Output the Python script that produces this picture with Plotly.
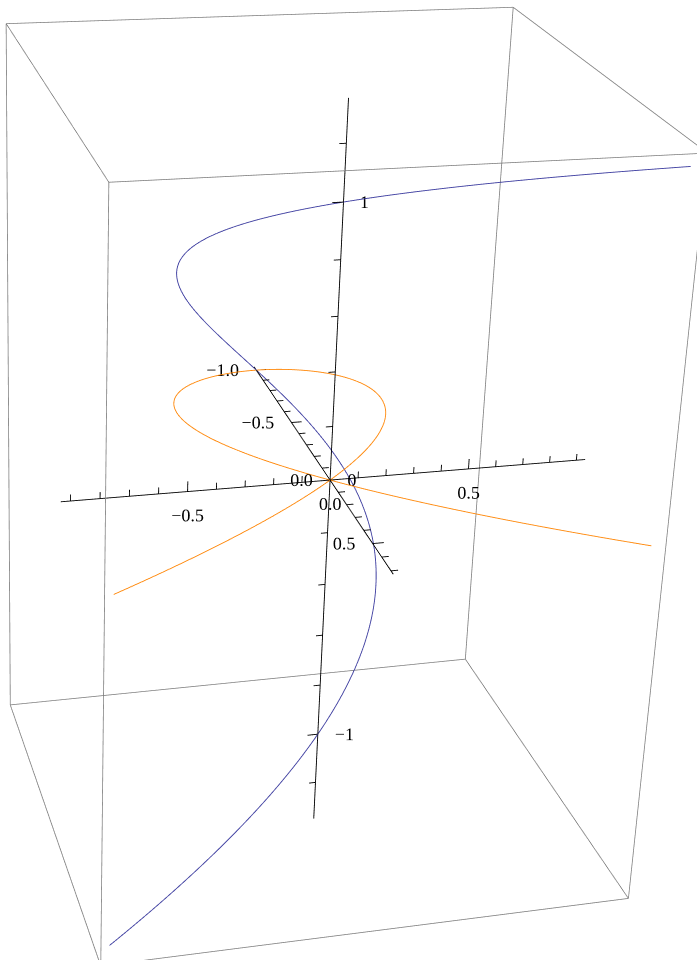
import numpy as np
import plotly.graph_objects as go

# ---- curve: twisted cubic (t^2-1, t^3-t, t) and its shadow in the plane z = 0
T_START, T_END = -1.3, 1.3
N_SAMPLES = 801

# ---- plot box (data extents padded by 2 % on each side); axes span the box
X_RANGE = [-1.034, 0.724]
Y_RANGE = [-0.933, 0.933]
Z_RANGE = [-1.352, 1.352]

# ---- ticks and tick labels of the three axes through the origin
X_TICKS = [-1.0, -0.9, -0.8, -0.7, -0.6, -0.5, -0.4, -0.3, -0.2, -0.1,
           0.0, 0.1, 0.2, 0.3, 0.4, 0.5, 0.6, 0.7]
X_MAJOR = [-1.0, -0.5, 0.0, 0.5]
X_LABELS = ["\u22121.0", "\u22120.5", "0.0", "0.5"]

Y_TICKS = [-0.9, -0.8, -0.7, -0.6, -0.5, -0.4, -0.3, -0.2, -0.1,
           0.0, 0.1, 0.2, 0.3, 0.4, 0.5, 0.6, 0.7, 0.8, 0.9]
Y_MAJOR = [-0.5, 0.0, 0.5]
Y_LABELS = ["\u22120.5", "0.0", "0.5"]

Z_TICKS = [-1.2, -1.0, -0.8, -0.6, -0.4, -0.2, 0.0, 0.2, 0.4, 0.6, 0.8, 1.0, 1.2]
Z_MAJOR = [-1.0, 0.0, 1.0]
Z_LABELS = ["\u22121", "0", "1"]

CURVE_BLUE = "rgb(62,62,160)"
CURVE_ORANGE = "rgb(255,136,10)"
BOX_GREY = "rgb(128,128,128)"
FONT = "Liberation Serif"

# tick mark lengths (data units)
MAJOR_LEN, MINOR_LEN = 0.038, 0.024
# extra room kept around the box inside the 3-D scene so its edges are not clipped
SCENE_MARGIN = 0.05

t = np.linspace(T_START, T_END, N_SAMPLES)
cx = t ** 2 - 1
cy = t ** 3 - t

fig = go.Figure()

# bounding box edges
corners = {}
for i, xv in enumerate(X_RANGE):
    for j, yv in enumerate(Y_RANGE):
        for k, zv in enumerate(Z_RANGE):
            corners[(i, j, k)] = (xv, yv, zv)
bx, by, bz = [], [], []
for key, p in corners.items():
    for axis in range(3):
        if key[axis] == 0:
            other = list(key)
            other[axis] = 1
            q = corners[tuple(other)]
            bx += [p[0], q[0], None]
            by += [p[1], q[1], None]
            bz += [p[2], q[2], None]
fig.add_trace(go.Scatter3d(x=bx, y=by, z=bz, mode="lines",
                           line=dict(color=BOX_GREY, width=1.6)))

# axes through the origin with their tick marks
ax_x = [X_RANGE[0], X_RANGE[1], None, 0, 0, None, 0, 0]
ax_y = [0, 0, None, Y_RANGE[0], Y_RANGE[1], None, 0, 0]
ax_z = [0, 0, None, 0, 0, None, Z_RANGE[0], Z_RANGE[1]]
tx, ty, tz = [], [], []
for v in X_TICKS:            # x ticks point along +y
    L = MAJOR_LEN if v in X_MAJOR else MINOR_LEN
    tx += [v, v, None]; ty += [0, L, None]; tz += [0, 0, None]
for v in Y_TICKS:            # y ticks point along +z
    L = MAJOR_LEN if v in Y_MAJOR else MINOR_LEN
    tx += [0, 0, None]; ty += [v, v, None]; tz += [0, L, None]
for v in Z_TICKS:            # z ticks point along -y
    L = MAJOR_LEN if v in Z_MAJOR else MINOR_LEN
    tx += [0, 0, None]; ty += [0, -L, None]; tz += [v, v, None]
fig.add_trace(go.Scatter3d(x=ax_x + [None] + tx, y=ax_y + [None] + ty,
                           z=ax_z + [None] + tz, mode="lines",
                           line=dict(color="black", width=1.8)))

# curves
fig.add_trace(go.Scatter3d(x=cx, y=cy, z=np.zeros_like(t), mode="lines",
                           line=dict(color=CURVE_ORANGE, width=1.8)))
fig.add_trace(go.Scatter3d(x=cx, y=cy, z=t, mode="lines",
                           line=dict(color=CURVE_BLUE, width=1.8)))

# tick labels
lab_font = dict(family=FONT, size=18, color="black")
fig.add_trace(go.Scatter3d(x=X_MAJOR, y=[0] * len(X_MAJOR), z=[0] * len(X_MAJOR),
                           mode="text", text=X_LABELS, textposition="middle left",
                           textfont=lab_font))
fig.add_trace(go.Scatter3d(x=[0] * len(Y_MAJOR), y=Y_MAJOR, z=[0] * len(Y_MAJOR),
                           mode="text", text=Y_LABELS, textposition="bottom center",
                           textfont=lab_font))
fig.add_trace(go.Scatter3d(x=[0] * len(Z_MAJOR), y=[0] * len(Z_MAJOR), z=Z_MAJOR,
                           mode="text", text=Z_LABELS, textposition="middle right",
                           textfont=lab_font))

# ---- scene extents and camera (given in data coordinates, converted to the
# scene's normalized space; equal scaling on all three axes)
scene_x = [X_RANGE[0] - SCENE_MARGIN, X_RANGE[1] + SCENE_MARGIN]
scene_y = [Y_RANGE[0] - SCENE_MARGIN, Y_RANGE[1] + SCENE_MARGIN]
scene_z = [Z_RANGE[0] - SCENE_MARGIN, Z_RANGE[1] + SCENE_MARGIN]
spans = np.array([scene_x[1] - scene_x[0], scene_y[1] - scene_y[0], scene_z[1] - scene_z[0]])
mid = np.array([sum(scene_x), sum(scene_y), sum(scene_z)]) / 2
scale = 1.0 / spans.max()
aspect = spans * scale

cam_pos = np.array([7.751, -2.406, 3.730])
cam_fwd = np.array([-0.8784, 0.2593, -0.4013])
cam_up = np.array([-0.3969, 0.0727, 0.9151])
look_dist = 9.066

eye = (cam_pos - mid) * scale
center = eye + cam_fwd * look_dist * scale

# the perspective field of view is fixed at 45 degrees, so the canvas height
# sets the focal length; the canvas is then placed so its optical centre
# lands at the wanted spot of the page
FOCAL_PX = 2612
canvas_h = int(round(2 * FOCAL_PX * np.tan(np.pi / 8)))
canvas_w = 1400
principal = (299, 432)

fig.update_layout(
    width=canvas_w, height=canvas_h,
    margin=dict(l=0, r=0, t=0, b=0),
    paper_bgcolor="white",
    showlegend=False,
    hovermode=False,
    scene=dict(
        domain=dict(x=[0, 1], y=[0, 1]),
        bgcolor="white",
        xaxis=dict(visible=False, range=scene_x),
        yaxis=dict(visible=False, range=scene_y),
        zaxis=dict(visible=False, range=scene_z),
        aspectmode="manual",
        aspectratio=dict(x=aspect[0], y=aspect[1], z=aspect[2]),
        camera=dict(
            eye=dict(x=eye[0], y=eye[1], z=eye[2]),
            center=dict(x=center[0], y=center[1], z=center[2]),
            up=dict(x=cam_up[0], y=cam_up[1], z=cam_up[2]),
            projection=dict(type="perspective"),
        ),
    ),
)

left = principal[0] - canvas_w // 2
top = principal[1] - canvas_h // 2
place = (
    "var gd=document.getElementById('{plot_id}');"
    "gd.style.position='absolute';"
    "gd.style.left='" + str(left) + "px';"
    "gd.style.top='" + str(top) + "px';"
    "document.documentElement.style.overflow='hidden';"
    "document.body.style.overflow='hidden';"
)

fig.write_html("out.html", config=dict(displayModeBar=False), post_script=place)
